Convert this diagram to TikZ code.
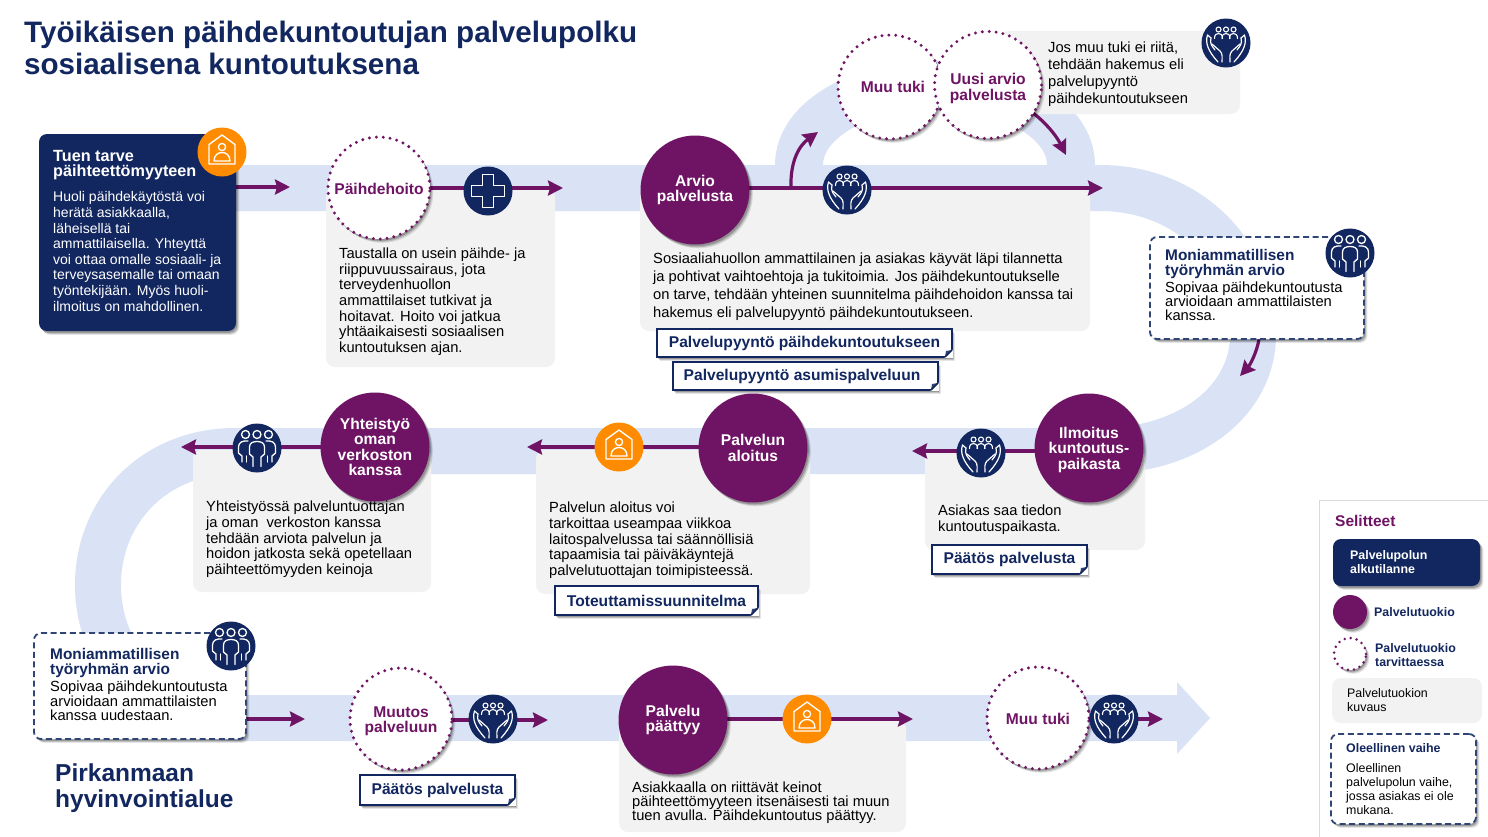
\documentclass[tikz,border=0pt]{standalone}
\usepackage{fontspec}
\setmainfont{Liberation Sans}
\usetikzlibrary{shadows,arrows.meta,calc}
\definecolor{navy}{HTML}{12275F}
\definecolor{purp}{HTML}{6F1464}
\definecolor{band}{HTML}{DAE3F5}
\definecolor{greyb}{HTML}{F2F2F2}
\definecolor{orangei}{HTML}{FF8C00}
\definecolor{dashc}{HTML}{2F4576}
\pgfdeclarelayer{back}
\pgfdeclarelayer{conn}
\pgfsetlayers{back,conn,main}
\newcommand\bodyf{\fontsize{14.7}{15.7}\selectfont}
\newcommand\headf{\bfseries\fontsize{15.6}{15.5}\selectfont}
\newcommand\legf{\fontsize{12.4}{14}\selectfont}
\newcommand\legb{\bfseries\fontsize{12.4}{14}\selectfont}
% \rbox[style]{name}{x1}{y1}{x2}{y2}
\newcommand\rbox[6][]{%
  \pgfmathsetmacro\bwd{#5-#3}\pgfmathsetmacro\bht{#6-#4}%
  \node[#1,anchor=north west,inner sep=0,outer sep=0,minimum width=\bwd pt,minimum height=\bht pt] (#2) at (#3,#4) {};}
% \foldbox{name}{x1}{y1}{x2}{y2}{text}
\newcommand\foldbox[6]{%
  \pgfmathsetmacro\bwd{#4-#2}\pgfmathsetmacro\bht{#5-#3}%
  \node[foldnote,minimum width=\bwd pt,minimum height=\bht pt] (#1) at (#2,#3) {#6};
  \fill[white] (#1.south east) ++(-7.5,0.9) -- ++(8.4,0) -- ++(0,-8.4) -- cycle;
  \fill[dashc] (#1.south east) ++(-7,0) -- ++(7,-7) -- ++(-6,1) -- cycle;
  \draw[navy,line width=1.5pt,line join=round] (#1.south east) ++(-7,0) -- ++(7,-7);}
\tikzset{
  x=1pt,y=-1pt,
  softshadow/.style={
    drop shadow={shadow xshift=3.4pt,shadow yshift=-3.8pt,opacity=.10,fill=black},
    drop shadow={shadow xshift=2.4pt,shadow yshift=-2.8pt,opacity=.16,fill=black},
    drop shadow={shadow xshift=1.4pt,shadow yshift=-1.8pt,opacity=.20,fill=black}},
  body/.style={anchor=north west,inner sep=0,align=left,font=\bodyf,text=black},
  greybox/.style={fill=greyb,rounded corners=9pt},
  solidc/.style={circle,fill=purp,text=white,inner sep=0,align=center,font=\headf,softshadow},
  dotc/.style={circle,fill=white,text=purp,inner sep=0,align=center,font=\headf,softshadow,
     draw=purp,line width=3.3pt,line cap=round,dash pattern=on 0pt off 6.9pt},
  iconnavy/.style={circle,fill=navy,minimum size=49pt,inner sep=0},
  iconorange/.style={circle,fill=orangei,minimum size=49pt,inner sep=0},
  dashbox/.style={fill=white,draw=dashc,line width=1.8pt,dash pattern=on 6pt off 3.6pt,rounded corners=7pt,softshadow},
  navybox/.style={fill=navy,rounded corners=8pt,softshadow},
  foldnote/.style={anchor=north west,fill=white,draw=navy,line width=1.5pt,inner sep=0,outer sep=0,text=navy,
     font=\bfseries\fontsize{15.6}{16}\selectfont,softshadow},
  flow/.style={draw=purp,line width=3.2pt,-{Stealth[length=15pt,width=15pt,inset=2pt]}},
  bandl/.style={draw=band,line width=46pt},
  ic/.style={draw=white,line width=1.35pt,line join=round,line cap=round},
  pics/househ/.style={code={
    \draw[ic] (0,-17) -- (13,-7.5) -- (13,12) -- (-13,12) -- (-13,-7.5) -- cycle;
    \draw[ic] (0,-5) circle[radius=3.6];
    \draw[ic] (-8,9) .. controls (-8,3) and (-4,0.5) .. (0,0.5) .. controls (4,0.5) and (8,3) .. (8,9) -- cycle;
  }},
  pics/crossi/.style={code={
    \draw[ic,line width=1.6pt] (-5.5,-16.5) -- (5.5,-16.5) -- (5.5,-5.5) -- (16.5,-5.5) -- (16.5,5.5) -- (5.5,5.5) -- (5.5,16.5) -- (-5.5,16.5) -- (-5.5,5.5) -- (-16.5,5.5) -- (-16.5,-5.5) -- (-5.5,-5.5) -- cycle;
  }},
  pics/handsi/.style={code={
    \foreach \hx in {-7.5,0,7.5}{
      \draw[ic,line width=1.1pt] (\hx,-13.5) circle[radius=2.5];
      \draw[ic,line width=1.1pt] (\hx-4,-4.5) .. controls (\hx-4,-8.5) and (\hx-2,-9.5) .. (\hx,-9.5) .. controls (\hx+2,-9.5) and (\hx+4,-8.5) .. (\hx+4,-4.5);
    }
    \foreach \sx in {-1,1}{
      \begin{scope}[xscale=\sx]
      \draw[ic,line width=1.2pt] (18.5,-8) .. controls (21,0) and (18,8) .. (8,19);
      \draw[ic,line width=1.2pt] (15,-5) .. controls (16.5,1) and (14,3) .. (11,7);
      \draw[ic,line width=1.2pt] (14,1) -- (6,8) .. controls (3,11) and (4,15) .. (4,19);
      \draw[ic,line width=1.2pt] (18.5,-8) -- (15,-5);
      \end{scope}}
  }},
  pics/peoplei/.style={code={
    \foreach \hx in {-11.5,0,11.5}{\draw[ic,line width=1.3pt] (\hx,-13.5) circle[radius=4];}
    \draw[ic,line width=1.3pt] (-4,18.5) -- (-4,9) -- (-7.5,6) -- (-7.5,-1) .. controls (-7.5,-5.5) and (-3.5,-6.5) .. (0,-6.5) .. controls (3.5,-6.5) and (7.5,-5.5) .. (7.5,-1) -- (7.5,6) -- (4,9) -- (4,18.5);
    \foreach \sx in {-1,1}{
      \begin{scope}[xscale=\sx]
      \draw[ic,line width=1.3pt] (9,-7) .. controls (14,-7.5) and (18.5,-6) .. (18.5,-1) -- (18.5,5) -- (15,8) -- (15,14);
      \draw[ic,line width=1.3pt] (10.5,8) -- (10.5,14);
      \end{scope}}
  }},
}
\begin{document}
\begin{tikzpicture}
\useasboundingbox (0,0) rectangle (1488,836);
\begin{pgfonlayer}{back}
\fill[white] (0,0) rectangle (1488,836);
% ribbon
\draw[band,line width=48pt] (799,190) -- (799,165) .. controls (799,120) and (860,85) .. (935,85) .. controls (1010,85) and (1071,120) .. (1071,165) -- (1071,190);
\draw[bandl] (236,188) -- (1100,188) .. controls (1190,188) and (1253,255) .. (1253,335) .. controls (1253,400) and (1190,451) .. (1100,451)
  -- (235,451) .. controls (155,451) and (98,510) .. (98,585) .. controls (98,660) and (155,718) .. (235,718) -- (1178,718);
\fill[band] (1177,682) -- (1210,718) -- (1177,754) -- cycle;
% description boxes
\rbox[greybox]{g1}{326}{188}{555}{367}
\rbox[greybox]{g2}{640}{188}{1090}{331}
\rbox[greybox]{g3}{1000}{31}{1240}{114}
\rbox[greybox]{g4}{925}{450}{1145}{550}
\rbox[greybox]{g5}{536}{450}{810}{594}
\rbox[greybox]{g6}{193}{450}{431}{592}
\rbox[greybox]{g7}{619}{720}{906}{832}
\end{pgfonlayer}

% title
\node[anchor=north west,inner sep=0,align=left,text=navy,font=\bfseries\fontsize{29.6}{32}\selectfont] (title) at (24,21) {Työikäisen päihdekuntoutujan palvelupolku\\sosiaalisena kuntoutuksena};
\node[anchor=north west,inner sep=0,align=left,text=navy,font=\bfseries\fontsize{24.5}{26.5}\selectfont] (org) at (55,763.5) {Pirkanmaan\\hyvinvointialue};

% start box
\rbox[navybox]{tuen}{39}{134}{236}{331}
\node[anchor=north west,inner sep=0,align=left,text=white,font=\bfseries\fontsize{16.2}{15}\selectfont] (tuent) at (53,150) {Tuen tarve\\päihteettömyyteen};
\node[body,text=white,font=\fontsize{14}{15.6}\selectfont] (tuenb) at (53,191.5) {Huoli päihdekäytöstä voi\\herätä asiakkaalla,\\läheisellä tai\\ammattilaisella. Yhteyttä\\voi ottaa omalle sosiaali- ja\\terveysasemalle tai omaan\\työntekijään. Myös huoli-\\ilmoitus on mahdollinen.};
\node[iconorange] (i1) at (222,152) {};
\pic at (i1) {househ};

% row 1
\node[dotc,minimum size=102pt] (paih) at (379,188) {\rule{0pt}{13pt}Päihdehoito};
\node[iconnavy] (i2) at (488,191) {};
\pic at (i2) {crossi};
\node[body] (paihb) at (339,247.5) {Taustalla on usein päihde- ja\\riippuvuussairaus, jota\\terveydenhuollon\\ammattilaiset tutkivat ja\\hoitavat. Hoito voi jatkua\\yhtäaikaisesti sosiaalisen\\kuntoutuksen ajan.};
\node[solidc,minimum size=109pt] (arvio) at (695,190) {Arvio\\palvelusta};
\node[iconnavy] (i3) at (847,190) {};
\pic at (i3) {handsi};
\node[body,font=\fontsize{14.7}{18}\selectfont] (arviob) at (653,252.5) {Sosiaaliahuollon ammattilainen ja asiakas käyvät läpi tilannetta\\ja pohtivat vaihtoehtoja ja tukitoimia. Jos päihdekuntoutukselle\\on tarve, tehdään yhteinen suunnitelma päihdehoidon kanssa tai\\hakemus eli palvelupyyntö päihdekuntoutukseen.};
\foldbox{f1}{657}{329}{952}{357}{Palvelupyyntö päihdekuntoutukseen}
\foldbox{f2}{673}{362}{938}{390}{Palvelupyyntö asumispalveluun\hspace*{7pt}}

% top arc
\node[dotc,minimum size=104pt] (muu1) at (890,87) {\hspace*{6pt}Muu tuki};
\node[dotc,minimum size=107pt] (uusi) at (988,85) {\rule{0pt}{18.5pt}Uusi arvio\\palvelusta};
\node[body,font=\fontsize{14.7}{17}\selectfont] (uusib) at (1048,41.5) {Jos muu tuki ei riitä,\\tehdään hakemus eli\\palvelupyyntö\\päihdekuntoutukseen};
\node[iconnavy] (i4) at (1226,43) {};
\pic at (i4) {handsi};

% first assessment
\rbox[dashbox]{moni1}{1150}{237}{1364}{339}
\node[anchor=north west,inner sep=0,align=left,text=navy,font=\bfseries\fontsize{15.4}{14.8}\selectfont] (moni1t) at (1165,249.5) {Moniammatillisen\\työryhmän arvio};
\node[body,font=\fontsize{14.7}{14.3}\selectfont] (moni1b) at (1165,281.5) {Sopivaa päihdekuntoutusta\\arvioidaan ammattilaisten\\kanssa.};
\node[iconnavy] (i5) at (1350,253) {};
\pic at (i5) {peoplei};

% row 2
\node[solidc,minimum size=109pt] (ilmo) at (1089,448) {\rule{0pt}{15pt}Ilmoitus\\kuntoutus-\\paikasta};
\node[iconnavy] (i6) at (981,453) {};
\pic at (i6) {handsi};
\node[body] (ilmob) at (938,504.5) {Asiakas saa tiedon\\kuntoutuspaikasta.};
\foldbox{f3}{932}{545}{1087}{574}{Päätös palvelusta}
\node[solidc,minimum size=109pt] (aloi) at (753,448) {Palvelun\\aloitus};
\node[iconorange] (i7) at (619,447) {};
\pic at (i7) {househ};
\node[body] (aloib) at (549,502) {Palvelun aloitus voi\\tarkoittaa useampaa viikkoa\\laitospalvelussa tai säännöllisiä\\tapaamisia tai päiväkäyntejä\\palvelutuottajan toimipisteessä.};
\foldbox{f4}{555}{586}{758}{615}{Toteuttamissuunnitelma}
\node[solidc,minimum size=109pt] (yhte) at (375,447) {Yhteistyö\\oman\\verkoston\\kanssa};
\node[iconnavy] (i8) at (257,448) {};
\pic at (i8) {peoplei};
\node[body] (yhteb) at (206,501) {Yhteistyössä palveluntuottajan\\ja oman\ \ verkoston kanssa\\tehdään arviota palvelun ja\\hoidon jatkosta sekä opetellaan\\päihteettömyyden keinoja};

% row 3
\rbox[dashbox]{moni2}{34}{633}{246}{739}
\node[anchor=north west,inner sep=0,align=left,text=navy,font=\bfseries\fontsize{15.4}{14.5}\selectfont] (moni2t) at (50,648.5) {Moniammatillisen\\työryhmän arvio};
\node[body,font=\fontsize{14.7}{14.3}\selectfont] (moni2b) at (50,681) {Sopivaa päihdekuntoutusta\\arvioidaan ammattilaisten\\kanssa uudestaan.};
\node[iconnavy] (i9) at (231,646) {};
\pic at (i9) {peoplei};
\node[dotc,minimum size=102pt] (muut) at (401,719) {\rule{0pt}{15pt}Muutos\\palveluun};
\node[iconnavy] (i10) at (493,719) {};
\pic at (i10) {handsi};
\foldbox{f5}{360}{775}{515}{805}{Päätös palvelusta}
\node[solidc,minimum size=109pt] (paat) at (673,720) {Palvelu\\päättyy};
\node[iconorange] (i11) at (807,719) {};
\pic at (i11) {househ};
\node[body,font=\fontsize{14.7}{14.2}\selectfont] (paatb) at (632,781.5) {Asiakkaalla on riittävät keinot\\päihteettömyyteen itsenäisesti tai muun\\tuen avulla. Päihdekuntoutus päättyy.};
\node[dotc,minimum size=102pt] (muu2) at (1038,718) {\rule{0pt}{13pt}Muu tuki};
\node[iconnavy] (i12) at (1114,719) {};
\pic at (i12) {handsi};

% legend
\rbox[fill=white,draw={rgb,255:red,217;green,217;blue,217}]{leg}{1319}{500}{1495}{845}
\node[anchor=west,inner sep=0,text=purp,font=\bfseries\fontsize{15.5}{16}\selectfont] (legt) at (1335,521) {Selitteet};
\rbox[navybox]{leg1}{1333}{539}{1480}{586}
\node[anchor=west,inner sep=0,align=left,text=white,font=\legb] (leg1t) at (1350,562) {Palvelupolun\\alkutilanne};
\node[solidc,minimum size=34pt] (leg2) at (1350,612) {};
\node[anchor=west,inner sep=0,text=navy,font=\legb] (leg2t) at (1374,612.5) {Palvelutuokio};
\node[dotc,minimum size=32pt,line width=2.8pt,dash pattern=on 0pt off 6.1pt] (leg3) at (1350,654) {};
\node[anchor=west,inner sep=0,align=left,text=navy,font=\legb] (leg3t) at (1375,655) {Palvelutuokio\\tarvittaessa};
\rbox[greybox]{leg4}{1332}{678}{1482}{723}
\node[anchor=west,inner sep=0,align=left,font=\legf] (leg4t) at (1347,700) {Palvelutuokion\\kuvaus};
\rbox[dashbox]{leg5}{1331}{734}{1476}{824}
\node[anchor=west,inner sep=0,text=navy,font=\legb] (leg5t) at (1346,748.5) {Oleellinen vaihe};
\node[anchor=north west,inner sep=0,align=left,font=\legf] (leg5b) at (1346,763.5) {Oleellinen\\palvelupolun vaihe,\\jossa asiakas ei ole\\mukana.};

% connector end points
\coordinate (e1) at (290,187);
\coordinate (e2) at (563,188);
\coordinate (e3) at (1103,188);
\coordinate (e4) at (818,132);
\coordinate (b4) at (791,188);
\coordinate (e5) at (1066,155);
\coordinate (s5) at (1033,113);
\coordinate (s6) at (1259,339);
\coordinate (e6) at (1240,376);
\coordinate (e7) at (912,451);
\coordinate (e8) at (527,447);
\coordinate (e9) at (181,447);
\coordinate (e10) at (305,719);
\coordinate (e11) at (548,720);
\coordinate (e12) at (913,719);
\coordinate (e13) at (1163,719);

\begin{pgfonlayer}{conn}
\draw[flow] (tuen.center |- e1) -- (e1);
\draw[flow] (paih.center |- e2) -- (e2);
\draw[flow] (arvio.center |- e3) -- (e3);
\draw[flow] (b4) .. controls (790,160) and (800,145) .. (e4);
\draw[flow] (s5) .. controls (1045,122) and (1056,135) .. (e5);
\draw[flow] (s6) .. controls (1257,352) and (1250,365) .. (e6);
\draw[flow] (ilmo.center |- e7) -- (e7);
\draw[flow] (aloi.center |- e8) -- (e8);
\draw[flow] (yhte.center |- e9) -- (e9);
\draw[flow] (moni2.center |- e10) -- (e10);
\draw[flow] (muut.center |- e11) -- (e11);
\draw[flow] (paat.center |- e12) -- (e12);
\draw[flow] (muu2.center |- e13) -- (e13);
\end{pgfonlayer}
\end{tikzpicture}
\end{document}
